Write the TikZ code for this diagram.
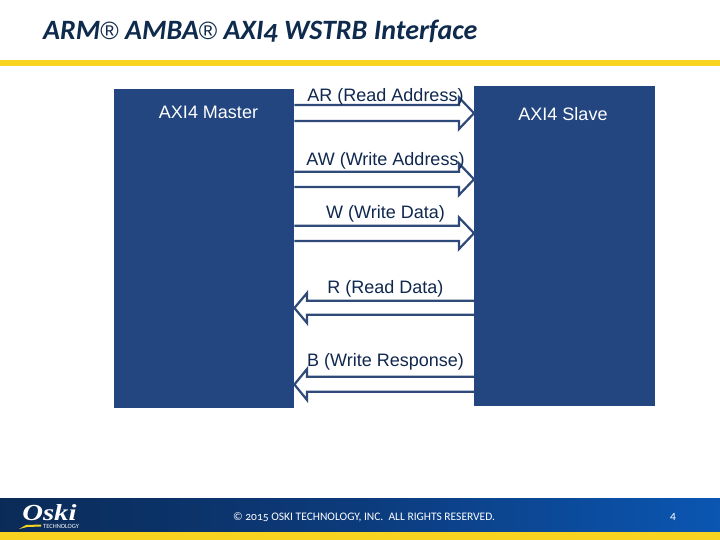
\documentclass[tikz,border=0pt]{standalone}
\usepackage{fontspec}
\setmainfont{Liberation Sans}
\newfontfamily\titlefont[Numbers=OldStyle]{Carlito}
\newfontfamily\regmark{Liberation Sans}
\usetikzlibrary{calc,shadings}
\definecolor{blockblue}{HTML}{234680}
\definecolor{arrowblue}{HTML}{2F4A78}
\definecolor{inkblue}{HTML}{10284F}
\definecolor{titleblue}{HTML}{0E2A4C}
\definecolor{barYellow}{HTML}{F8D420}
\definecolor{footL}{HTML}{0B2B57}
\definecolor{footM}{HTML}{0C3B7C}
\definecolor{footR}{HTML}{0B56B2}
\tikzset{
  block/.style={fill=blockblue,draw=none,inner sep=0pt,anchor=north west},
  lbl/.style={text=inkblue,font=\fontsize{18}{20}\selectfont,inner sep=0pt},
  blockarrow/.style={draw=arrowblue,line width=2.2pt,fill=none,line join=miter}
}
\newcommand{\rightblock}[6]{%
  \coordinate (s1) at (#1.east |- 0,#3);
  \coordinate (s2) at (#1.east |- 0,#4);
  \coordinate (tip) at (#2.west |- 0,{(#5+#6)/2});
  \draw[blockarrow] (s1) -- (459,#3) -- (459,#5) -- (tip) -- (459,#6) -- (459,#4) -- (s2);}
\newcommand{\leftblock}[6]{%
  \coordinate (s1) at (#1.west |- 0,#3);
  \coordinate (s2) at (#1.west |- 0,#4);
  \coordinate (tip) at (#2.east |- 0,{(#5+#6)/2});
  \draw[blockarrow] (s1) -- (307,#3) -- (307,#5) -- (tip) -- (307,#6) -- (307,#4) -- (s2);}
\newcommand{\regm}{{\regmark\mdseries\upshape\fontsize{25}{30}\selectfont ®}}
\begin{document}
\begin{tikzpicture}[x=1pt,y=-1pt]
\useasboundingbox (0,0) rectangle (720,540);
\fill[white] (0,0) rectangle (720,540);
% title
\node[anchor=west,inner sep=0pt,text=titleblue,font=\titlefont\bfseries\itshape\fontsize{28}{30}\selectfont] (title) at (43,31) {ARM\regm{} AMBA\regm{} AXI4 WSTRB Interface};
\fill[barYellow] (0,60) rectangle (720,66);
% blocks
\node[block,minimum width=180pt,minimum height=319pt] (master) at (114,89) {};
\node[block,minimum width=181pt,minimum height=320pt] (slave) at (474,86) {};
% arrows
\rightblock{master}{slave}{105}{121}{97.5}{129}
\rightblock{master}{slave}{171.7}{187}{163.5}{195}
\rightblock{master}{slave}{225.7}{241}{217.5}{249}
\leftblock{slave}{master}{300.7}{314.7}{293}{323}
\leftblock{slave}{master}{376.7}{391.7}{369}{400}
% labels
\node[lbl,text=white] (mlabel) at (208.5,112) {AXI4 Master};
\node[lbl,text=white] (slabel) at (563,114) {AXI4 Slave};
\node[lbl] (ar) at (385.5,97) {AR (Read Address)};
\node[lbl] (aw) at (385.5,161) {AW (Write Address)};
\node[lbl] (w) at (385.5,214) {W (Write Data)};
\node[lbl] (r) at (385.5,289) {R (Read Data)};
\node[lbl] (b) at (385.5,362) {B (Write Response)};
% footer
\shade[left color=footL,right color=footR,middle color=footM] (0,498) rectangle (720,532);
\fill[barYellow] (0,532) rectangle (720,540);
\node[anchor=west,inner sep=0pt,text=white,font=\titlefont\fontsize{11.5}{13}\selectfont] (copy) at (233,517) {© 2015 OSKI TECHNOLOGY, INC.\ \ ALL RIGHTS RESERVED.};
\node[inner sep=0pt,text=white,font=\titlefont\fontsize{11.5}{13}\selectfont] (page) at (673,517) {4};
% logo
\node[anchor=base west,inner sep=0pt,text=white,xscale=1.25,font=\fontspec{Liberation Serif}\bfseries\itshape\fontsize{23}{25}\selectfont] (logo) at (22,520) {Oski};
\fill[barYellow] (19,529) -- (26,525) -- (41,524.5) -- (41,526.5) -- (27,527) -- cycle;
\node[anchor=west,inner sep=0pt,text=white,font=\titlefont\fontsize{6.4}{7}\selectfont] (tech) at (43,526.5) {TECHNOLOGY};
\end{tikzpicture}
\end{document}
